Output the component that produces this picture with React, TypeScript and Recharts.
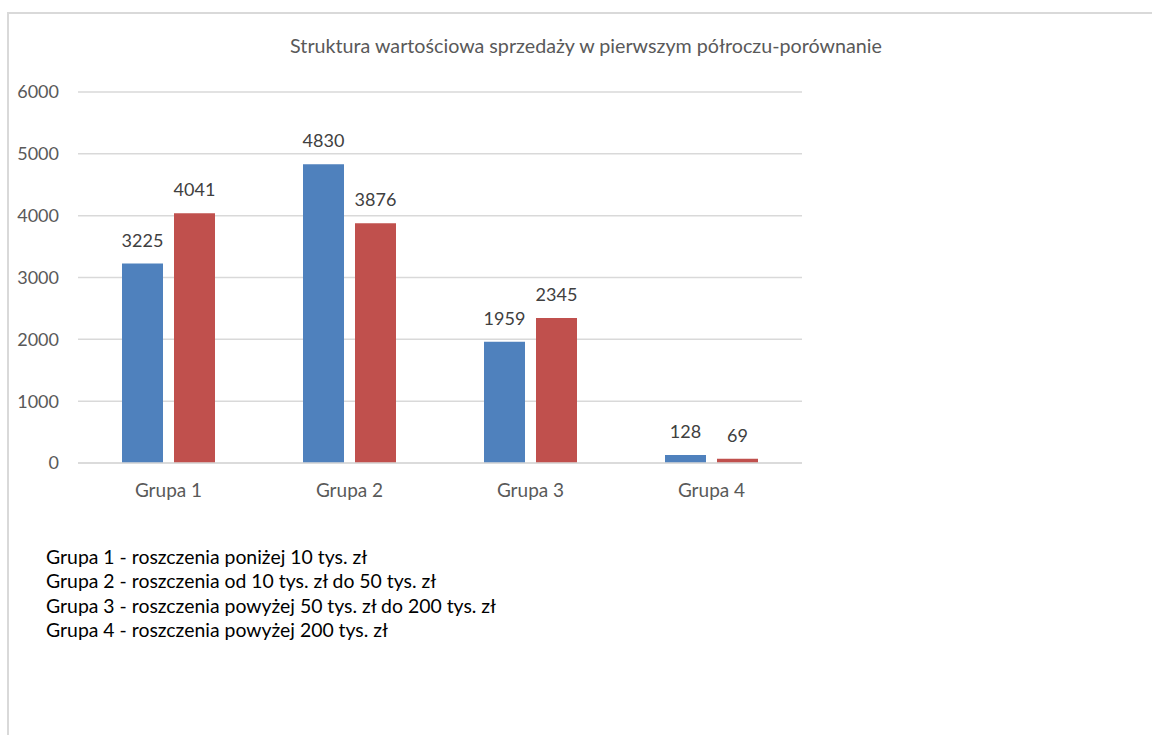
import { BarChart, Bar, XAxis, YAxis, CartesianGrid, LabelList } from "recharts";

const categories = ["Grupa 1", "Grupa 2", "Grupa 3", "Grupa 4"];
const series1 = [3225, 4830, 1959, 128];
const series2 = [4041, 3876, 2345, 69];
const yTicks = [0, 1000, 2000, 3000, 4000, 5000, 6000];
const title = "Struktura wartościowa sprzedaży w pierwszym półroczu-porównanie";
const notes = [
  "Grupa 1 - roszczenia poniżej 10 tys. zł",
  "Grupa 2 - roszczenia od 10 tys. zł do 50 tys. zł",
  "Grupa 3 - roszczenia powyżej 50 tys. zł do 200 tys. zł",
  "Grupa 4 - roszczenia powyżej 200 tys. zł",
];

const data = categories.map((name, i) => ({ name, s1: series1[i], s2: series2[i] }));

const font = "Lato, 'Open Sans', sans-serif";

const App = () => {
  return (
    <div style={{ position: "relative", width: 1152, height: 735, fontFamily: font, overflow: "hidden" }}>
      <style>{`body{margin:0;overflow:hidden}`}</style>
      <div
        style={{
          position: "absolute",
          left: 7,
          top: 12,
          width: 1200,
          height: 800,
          borderTop: "2px solid #d9d9d9",
          borderLeft: "2px solid #d9d9d9",
        }}
      />
      <div
        style={{
          position: "absolute",
          left: 0,
          width: 1172,
          top: 34,
          textAlign: "center",
          fontSize: 19.7,
          lineHeight: 1.2,
          color: "#595959",
          whiteSpace: "nowrap",
        }}
      >
        {title}
      </div>
      <div style={{ position: "absolute", left: 8, top: 8 }}>
        <BarChart
          width={830}
          height={500}
          data={data}
          margin={{ top: 84, right: 36, left: 10, bottom: 5 }}
          barSize={41}
          barGap={11}
        >
          <CartesianGrid vertical={false} stroke="#d9d9d9" strokeWidth={1.5} />
          <XAxis
            dataKey="name"
            axisLine={{ stroke: "#d9d9d9", strokeWidth: 1.5 }}
            tickLine={false}
            tickSize={0}
            tickMargin={21}
            height={40}
            tick={{ fill: "#595959", fontSize: 19, fontFamily: font }}
          />
          <YAxis
            domain={[0, 6000]}
            ticks={yTicks}
            axisLine={false}
            tickLine={false}
            tickSize={0}
            tickMargin={19}
            width={60}
            tick={{ fill: "#595959", fontSize: 18, fontFamily: font }}
          />
          <Bar dataKey="s1" fill="#4f81bd" isAnimationActive={false}>
            <LabelList dataKey="s1" position="top" offset={17} fill="#404040" fontSize={18} fontFamily={font} />
          </Bar>
          <Bar dataKey="s2" fill="#c0504d" isAnimationActive={false}>
            <LabelList dataKey="s2" position="top" offset={17} fill="#404040" fontSize={18} fontFamily={font} />
          </Bar>
        </BarChart>
      </div>
      <div
        style={{
          position: "absolute",
          left: 46,
          top: 545,
          fontSize: 19.4,
          lineHeight: "24.4px",
          color: "#000",
          whiteSpace: "nowrap",
        }}
      >
        {notes.map((n) => (
          <div key={n}>{n}</div>
        ))}
      </div>
    </div>
  );
};

export default App;
